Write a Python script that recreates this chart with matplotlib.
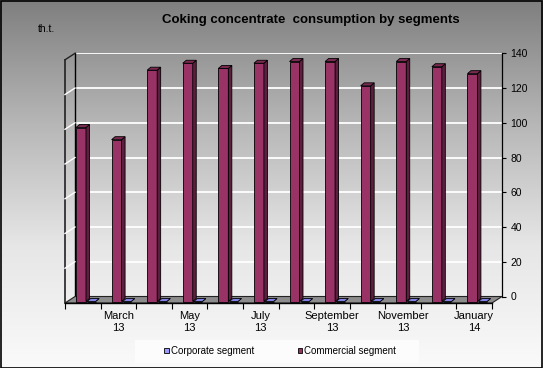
import numpy as np
import matplotlib
matplotlib.use('Agg')
import matplotlib.pyplot as plt
from matplotlib.patches import Polygon, Rectangle
from matplotlib.colors import LinearSegmentedColormap

plt.rcParams['font.family'] = ['Liberation Sans', 'DejaVu Sans']

months = ['February', 'March', 'April', 'May', 'June', 'July', 'August',
          'September', 'October', 'November', 'December', 'January']
years = ['13', '13', '13', '13', '13', '13', '13', '13', '13', '13', '13', '14']
corporate = [0, 0, 0, 0, 0, 0, 0, 0, 0, 0, 0, 0]
commercial = [99, 92, 132, 136, 133, 136, 137, 137, 123, 137, 134, 130]
yticks = [0, 20, 40, 60, 80, 100, 120, 140]

W, H = 543, 368
fig = plt.figure(figsize=(W / 100, H / 100), dpi=100)

# gradient background
bg = fig.add_axes([0, 0, 1, 1], zorder=-10)
grad = np.linspace(0, 1, 256).reshape(-1, 1)
cmap = LinearSegmentedColormap.from_list('g', ['#7f7f7f', '#b6b6b6', '#e6e6e6', '#fafafa'])
bg.imshow(grad, aspect='auto', cmap=cmap, extent=[0, 1, 0, 1])
bg.set_axis_off()
fig.patches.append(Rectangle((0.5 / W, 0.5 / H), 1 - 1.5 / W, 1 - 1.5 / H, transform=fig.transFigure,
                             fill=False, edgecolor='black', lw=1.2, zorder=100))

# plot geometry (pixels)
left, right, bottom, top = 65, 492, 303, 59.8
dxp, dyp = 10, 6.5
catp = (right - left) / 12.0
unitp = (bottom - top) / 140.0
DX, DY = dxp / catp, dyp / unitp

# back wall axes
axb = fig.add_axes([(left + dxp) / W, (H - bottom + dyp) / H, (right - left) / W, (bottom - top) / H], zorder=0)
axb.set_xlim(-0.5, 11.5)
axb.set_ylim(0, 140)
axb.patch.set_alpha(0)
axb.set_xticks([])
axb.yaxis.tick_right()
axb.set_yticks(yticks)
axb.set_yticklabels([str(v) for v in yticks], fontsize=7.5, ha='left')
axb.tick_params(axis='y', length=3, width=0.8, pad=3, colors='black')
for v in yticks[1:]:
    axb.axhline(v, color='white', lw=1.3, zorder=1)
for s in ['top', 'bottom']:
    axb.spines[s].set_visible(False)
axb.spines['right'].set_linewidth(0.9)
axb.spines['left'].set_linewidth(1.0)

# front axes
ax = fig.add_axes([left / W, (H - bottom) / H, (right - left) / W, (bottom - top) / H], zorder=1)
ax.set_xlim(-0.5, 11.5)
ax.set_ylim(0, 140)
ax.patch.set_alpha(0)
for s in ['top', 'right', 'left']:
    ax.spines[s].set_visible(False)
ax.spines['bottom'].set_linewidth(1.0)
ax.set_yticks([])
ax.set_xticks(np.arange(-0.5, 12, 1))
ax.set_xticklabels([])
ax.tick_params(axis='x', which='major', length=4, width=0.8, direction='out')
x = np.arange(12)
ax.set_xticks(x, minor=True)
ax.set_xticklabels([m + '\n' + y if i % 2 == 1 else '' for i, (m, y) in enumerate(zip(months, years))],
                   minor=True, fontsize=8, linespacing=1.15)
ax.tick_params(axis='x', which='minor', length=0, pad=6)

# floor
ax.add_patch(Polygon([(-0.5, 0), (11.5, 0), (11.5 + DX, DY), (-0.5 + DX, DY)], closed=True,
                     facecolor='#8c8c8c', edgecolor='#222222', lw=0.8, clip_on=False, zorder=1))
# left wall
ax.plot([-0.5, -0.5], [0, 140], color='#222222', lw=1.2, clip_on=False, zorder=2)
ax.plot([-0.5, -0.5 + DX], [140, 140 + DY], color='#222222', lw=1.0, clip_on=False, zorder=2)
for v in yticks[1:-1]:
    ax.plot([-0.5, -0.5 + DX], [v, v + DY], color='white', lw=1.0, clip_on=False, zorder=2)

# bars
BY = 1.5 / unitp
BX = 3.5 / catp
BDY = 3.0 / unitp
off = DY - BDY - BY


def bar3d(x0, w, h, front, side, topc):
    ax.bar(x0, h, width=w, bottom=BY, align='edge', color=front, edgecolor='black', lw=0.6, zorder=5)
    ax.add_patch(Polygon([(x0 + w, BY), (x0 + w + BX, BY + BDY), (x0 + w + BX, BY + h + BDY), (x0 + w, BY + h)],
                         closed=True, facecolor=side, edgecolor='black', lw=0.6, zorder=5, clip_on=False))
    ax.add_patch(Polygon([(x0, BY + h), (x0 + BX, BY + h + BDY), (x0 + w + BX, BY + h + BDY), (x0 + w, BY + h)],
                         closed=True, facecolor=topc, edgecolor='black', lw=0.6, zorder=5, clip_on=False))


for i in range(12):
    bar3d(i - 0.19, 0.28, commercial[i] + off, '#993366', '#5c1f3e', '#7a2951')
    bar3d(i + 0.12, 0.24, corporate[i], '#9999ff', '#6666cc', '#8080e6')

# titles
fig.text(311 / W, 1 - 20.5 / H, 'Coking concentrate  consumption by segments', ha='center', va='center',
         fontsize=9.5, fontweight='bold')
fig.text(38 / W, 1 - 28.5 / H, 'th.t.', ha='left', va='center', fontsize=7.5)

# legend
fig.patches.append(Rectangle((135 / W, 1 - 363 / H), 284 / W, 23 / H, transform=fig.transFigure,
                             facecolor='#fcfcfc', edgecolor='none', zorder=2))
h1 = Rectangle((0, 0), 1, 1, facecolor='#9999ff', edgecolor='black', lw=0.6)
h2 = Rectangle((0, 0), 1, 1, facecolor='#993366', edgecolor='black', lw=0.6)
fig.legend([h1, h2], ['Corporate segment', 'Commercial segment'], loc='center',
           bbox_to_anchor=(280 / W, 1 - 351 / H), ncol=2, frameon=False, fontsize=7,
           handlelength=0.5, handleheight=0.5, handletextpad=0.2, columnspacing=4.5)

fig.savefig('out.png', dpi=100)
